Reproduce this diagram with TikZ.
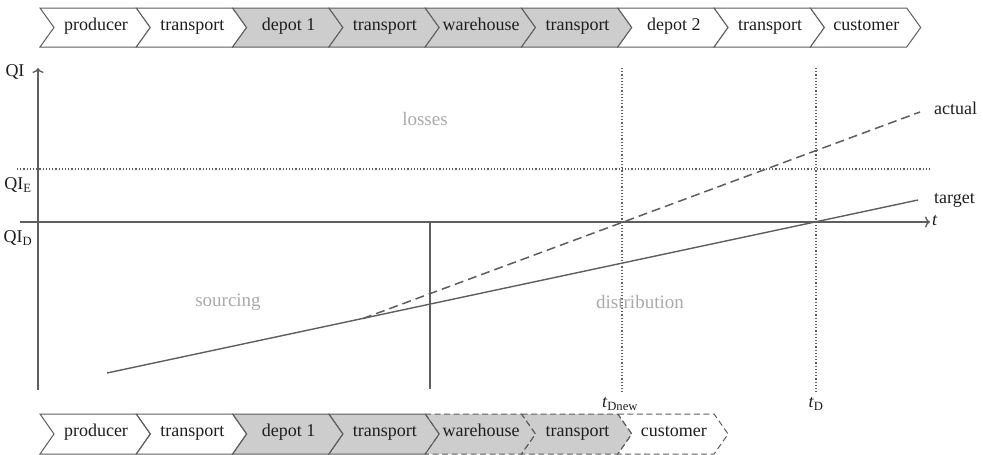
\documentclass[tikz,border=0pt]{standalone}
\usepackage{fontspec}
\setmainfont{Liberation Serif}
\usetikzlibrary{arrows.meta}
\definecolor{linegray}{HTML}{5E5E5E}
\definecolor{boxgray}{HTML}{CDCDCD}
\definecolor{labgray}{HTML}{AAAAAA}
\definecolor{txtcol}{HTML}{1E1E1E}
\begin{document}
\begin{tikzpicture}[x=1pt,y=-1pt,
  chev/.style={draw=linegray, line width=1pt, line join=miter},
  chevdash/.style={draw=linegray, line width=1pt, dash pattern=on 6pt off 3.5pt},
  chevlab/.style={font=\fontsize{18}{20}\selectfont, text=txtcol, inner sep=0pt, text height=1.5ex, text depth=.25ex},
  axislabel/.style={font=\fontsize{18}{20}\selectfont, text=txtcol, inner sep=0pt},
  regionlab/.style={font=\fontsize{19}{21}\selectfont, text=labgray, inner sep=0pt},
  axisline/.style={draw=linegray, line width=1.4pt},
  axisarrow/.style={-{To[length=5pt,width=11pt]}},
  dotline/.style={draw=linegray, line width=1.2pt, dotted},
  solidline/.style={draw=linegray, line width=1.4pt},
  dashline/.style={draw=linegray, line width=1.5pt, dash pattern=on 9pt off 5pt}]
\useasboundingbox (0,0) rectangle (983,455);
% top row
\foreach \i/\lab/\f in {0/producer/white,1/transport/white,2/depot 1/boxgray,3/transport/boxgray,4/warehouse/boxgray,5/transport/boxgray,6/depot 2/white,7/transport/white,8/customer/white}{
  \pgfmathsetmacro\xa{40+96.3*\i}
  \pgfmathsetmacro\xb{\xa+96.3}
  \path[fill=\f, chev] (\xa,8) -- (\xb,8) -- (\xb+14,27.5) -- (\xb,47) -- (\xa,47) -- (\xa+14,27.5) -- cycle;
  \node[chevlab] (top\i) at (\xa+56,28) {\lab};
}
% bottom row fills
\foreach \i/\lab/\f in {0/producer/white,1/transport/white,2/depot 1/boxgray,3/transport/boxgray,4/warehouse/boxgray,5/transport/boxgray,6/customer/white}{
  \pgfmathsetmacro\xa{40+96.3*\i}
  \pgfmathsetmacro\xb{\xa+96.3}
  \path[fill=\f] (\xa,414) -- (\xb,414) -- (\xb+14,434) -- (\xb,454) -- (\xa,454) -- (\xa+14,434) -- cycle;
}
\foreach \i in {4,5,6}{
  \pgfmathsetmacro\xa{40+96.3*\i}
  \pgfmathsetmacro\xb{\xa+96.3}
  \path[chevdash] (\xa,414) -- (\xb,414) -- (\xb+14,434) -- (\xb,454) -- (\xa,454) -- (\xa+14,434) -- cycle;
}
\foreach \i in {0,1,2,3}{
  \pgfmathsetmacro\xa{40+96.3*\i}
  \pgfmathsetmacro\xb{\xa+96.3}
  \path[chev] (\xa,414) -- (\xb,414) -- (\xb+14,434) -- (\xb,454) -- (\xa,454) -- (\xa+14,434) -- cycle;
}
\foreach \i/\lab in {0/producer,1/transport,2/depot 1,3/transport,4/warehouse,5/transport,6/customer}{
  \pgfmathsetmacro\xa{40+96.3*\i}
  \node[chevlab] (bot\i) at (\xa+56,434) {\lab};
}
% axes
\coordinate (yb) at (38,390);
\coordinate (yt) at (38,68);
\coordinate (xl) at (20,222);
\coordinate (xr) at (930,222);
\path[axisline, axisarrow] (yb) -- (yt);
\path[axisline, axisarrow] (xl) -- (xr);
\node[axislabel] (qi) at (15,72) {QI};
\node[axislabel] (qie) at (18,185) {QI\textsubscript{E}};
\node[axislabel] (qid) at (18,238) {QI\textsubscript{D}};
\node[axislabel, anchor=west] (tl) at (932,221) {\textit{t}};
% QI_E dotted
\coordinate (el) at (17,169);
\coordinate (er) at (930,169);
\path[dotline] (el) -- (er);
% vertical dotted lines
\coordinate (d1t) at (622,68);
\coordinate (d1b) at (622,393);
\coordinate (d2t) at (816,68);
\coordinate (d2b) at (816,393);
\path[dotline] (d1t) -- (d1b);
\path[dotline] (d2t) -- (d2b);
\node[axislabel] (tdnew) at (620,404) {\textit{t}\textsubscript{Dnew}};
\node[axislabel] (td) at (816,404) {\textit{t}\textsubscript{D}};
% vertical separator
\coordinate (sept) at (430,222);
\coordinate (sepb) at (430,389);
\path[solidline] (sept) -- (sepb);
% target and actual lines
\coordinate (ts) at (107,373);
\coordinate (te) at (918,200);
\coordinate (as) at (363,318.5);
\coordinate (ae) at (920,112);
\path[solidline] (ts) -- (te);
\path[dashline] (as) -- (ae);
\node[axislabel, anchor=west] (actual) at (934,108) {actual};
\node[axislabel, anchor=west] (target) at (934,200) {target};
% region labels
\node[regionlab] (losses) at (425,119) {losses};
\node[regionlab] (sourcing) at (228,302) {sourcing};
\node[regionlab] (distribution) at (640,302) {distribution};
\end{tikzpicture}
\end{document}
